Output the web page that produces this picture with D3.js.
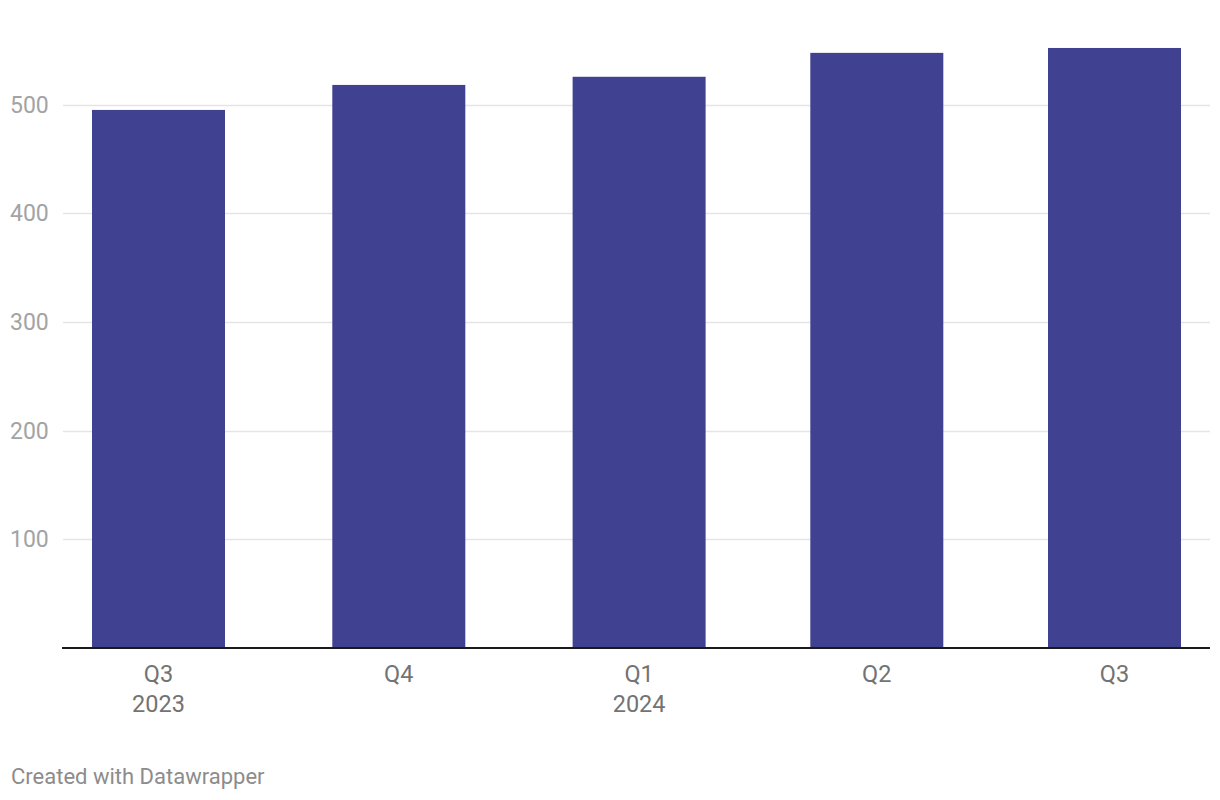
<!DOCTYPE html>
<html>
<head>
<meta charset="utf-8">
<script src="https://cdn.jsdelivr.net/npm/d3@7"></script>
<style>
  html, body { margin: 0; padding: 0; background: #fff; }
  svg { display: block; font-family: Roboto, "Noto Sans", sans-serif; }
</style>
</head>
<body>
<svg id="chart" width="1220" height="800"></svg>
<script>
// Data
const periods = ["2023-07-01", "2023-10-01", "2024-01-01", "2024-04-01", "2024-07-01"];
const quarterLabels = ["Q3", "Q4", "Q1", "Q2", "Q3"];
const yearLabels = ["2023", "", "2024", "", ""];
const values = [495, 518, 525.5, 547.5, 552];
const yTicks = [100, 200, 300, 400, 500];

const parse = d3.timeParse("%Y-%m-%d");
const dates = periods.map(parse);

const svg = d3.select("#chart");

const x = d3.scaleTime()
  .domain([dates[0], dates[dates.length - 1]])
  .range([158.5, 1114.5]);

const y = d3.scaleLinear()
  .domain([0, 500])
  .range([648, 104.5]);

const barWidth = 133;

// Gridlines
const grid = svg.append("g");
grid.selectAll("line")
  .data(yTicks)
  .join("line")
  .attr("x1", 63)
  .attr("x2", 1210)
  .attr("y1", d => Math.round(y(d)) + 0.5)
  .attr("y2", d => Math.round(y(d)) + 0.5)
  .attr("stroke", "#e5e5e5")
  .attr("stroke-width", 1.5);

// Y tick labels
svg.append("g").selectAll("text")
  .data(yTicks)
  .join("text")
  .attr("x", 10)
  .attr("y", d => y(d))
  .attr("dy", "0.35em")
  .attr("fill", "#a3a3a3")
  .attr("font-size", 23)
  .text(d => d3.format("d")(d));

// Bars
const data = dates.map((d, i) => ({ date: d, value: values[i] }));
svg.append("g").selectAll("rect")
  .data(data)
  .join("rect")
  .attr("x", d => x(d.date) - barWidth / 2)
  .attr("width", barWidth)
  .attr("y", d => y(d.value))
  .attr("height", d => y(0) - y(d.value))
  .attr("fill", "#404190");

// X axis baseline
svg.append("line")
  .attr("x1", 62)
  .attr("x2", 1210)
  .attr("y1", y(0))
  .attr("y2", y(0))
  .attr("stroke", "#1a1a1a")
  .attr("stroke-width", 2);

// X labels
const xl = svg.append("g").selectAll("g")
  .data(data)
  .join("g")
  .attr("transform", d => `translate(${x(d.date)},0)`);
xl.append("text")
  .attr("y", 682)
  .attr("text-anchor", "middle")
  .attr("fill", "#737373")
  .attr("font-size", 23.5)
  .text((d, i) => quarterLabels[i]);
xl.append("text")
  .attr("y", 712)
  .attr("text-anchor", "middle")
  .attr("fill", "#737373")
  .attr("font-size", 23.5)
  .text((d, i) => yearLabels[i]);

// Footer
svg.append("text")
  .attr("x", 11)
  .attr("y", 784)
  .attr("fill", "#8c8c8c")
  .attr("font-size", 22)
  .text("Created with Datawrapper");
</script>
</body>
</html>
